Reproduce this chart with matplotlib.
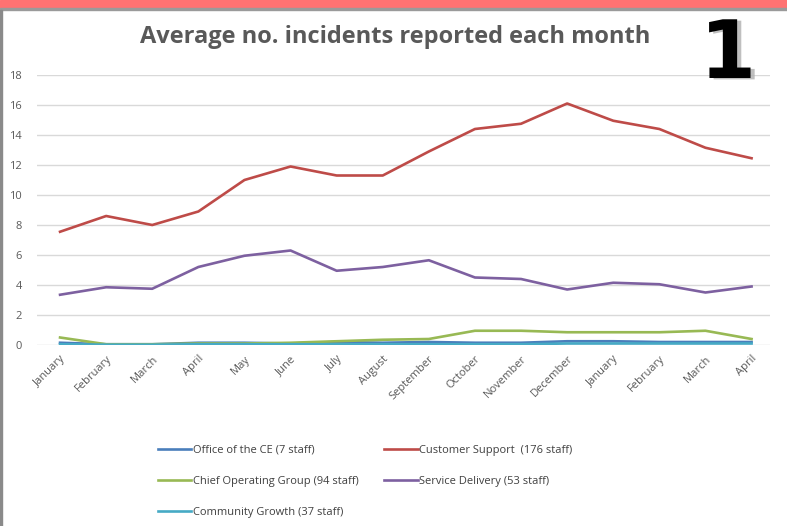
import matplotlib.pyplot as plt
import matplotlib.patheffects as pe
from matplotlib.patches import Rectangle

months = ["January", "February", "March", "April", "May", "June", "July",
          "August", "September", "October", "November", "December",
          "January", "February", "March", "April"]

office_ce = [0.15, 0.05, 0.05, 0.15, 0.15, 0.1, 0.2, 0.15, 0.2, 0.15,
             0.15, 0.25, 0.25, 0.2, 0.2, 0.2]
customer_support = [7.55, 8.6, 8.0, 8.9, 11.0, 11.9, 11.3, 11.3, 12.9, 14.4,
                    14.75, 16.1, 14.95, 14.4, 13.15, 12.45]
chief_operating = [0.5, 0.05, 0.05, 0.1, 0.1, 0.15, 0.25, 0.35, 0.4, 0.95,
                   0.95, 0.85, 0.85, 0.85, 0.95, 0.4]
service_delivery = [3.35, 3.85, 3.75, 5.2, 5.95, 6.3, 4.95, 5.2, 5.65, 4.5,
                    4.4, 3.7, 4.15, 4.05, 3.5, 3.9]
community_growth = [0.05, 0.02, 0.02, 0.05, 0.05, 0.05, 0.05, 0.05, 0.05,
                    0.05, 0.05, 0.1, 0.1, 0.1, 0.1, 0.1]

series = [
    ("Office of the CE (7 staff)", office_ce, "#4a7ebb"),
    ("Customer Support  (176 staff)", customer_support, "#be4b48"),
    ("Chief Operating Group (94 staff)", chief_operating, "#98b954"),
    ("Service Delivery (53 staff)", service_delivery, "#7d60a0"),
    ("Community Growth (37 staff)", community_growth, "#46aac5"),
]

plt.rcParams['font.family'] = ['Open Sans', 'DejaVu Sans']

fig = plt.figure(figsize=(7.87, 5.26), dpi=100)
W, H = 787, 526

# red banner and frame
fig.patches.append(Rectangle((0, 1 - 8 / H), 1, 8 / H, transform=fig.transFigure,
                             color="#ff7272", zorder=0))
fig.patches.append(Rectangle((0, 1 - 10 / H), 1, 2 / H, transform=fig.transFigure,
                             color="#9a9a9a", zorder=0))
fig.patches.append(Rectangle((0, 0), 2 / W, 1 - 10 / H, transform=fig.transFigure,
                             color="#8a8a8a", zorder=0))

ax = fig.add_axes([37 / W, 1 - 345 / H, (770 - 37) / W, (345 - 75) / H])
x = list(range(len(months)))
handles = {}
for name, vals, col in series:
    h, = ax.plot(x, vals, color=col, lw=1.9, solid_joinstyle="round")
    handles[name] = h

ax.set_ylim(0, 18)
ax.set_xlim(-0.5, 15.4)
ax.set_yticks(range(0, 19, 2))
ax.yaxis.grid(True, color="#d9d9d9", lw=1)
ax.set_axisbelow(True)
for s in ax.spines.values():
    s.set_visible(False)
ax.tick_params(axis="both", length=0, colors="#595959", labelsize=8)
ax.tick_params(axis="y", pad=11)
ax.set_xticks(x)
ax.set_xticklabels(months, rotation=45, ha="right", rotation_mode="anchor")
ax.tick_params(axis="x", pad=6)

fig.text(395 / W, 1 - 37 / H, "Average no. incidents reported each month",
         ha="center", va="center", fontsize=17, fontweight="bold", color="#595959")

# big number badge
fig.text(728 / W, 1 - 56 / H, "1", ha="center", va="center", fontsize=58,
         fontweight="bold", color="black", family="DejaVu Sans",
         path_effects=[pe.withSimplePatchShadow(offset=(3, -1), shadow_rgbFace="#b0b0b0",
                                                alpha=0.8)])

order = ["Office of the CE (7 staff)", "Chief Operating Group (94 staff)",
         "Community Growth (37 staff)", "Customer Support  (176 staff)",
         "Service Delivery (53 staff)"]
fig.legend([handles[n] for n in order], order, ncol=2, loc="upper left",
           bbox_to_anchor=(148 / W, 1 - 435 / H), frameon=False, fontsize=8,
           labelcolor="#404040", handlelength=3.0, handletextpad=0.15,
           columnspacing=2.3, labelspacing=1.8)

fig.savefig("out.png", dpi=100)
